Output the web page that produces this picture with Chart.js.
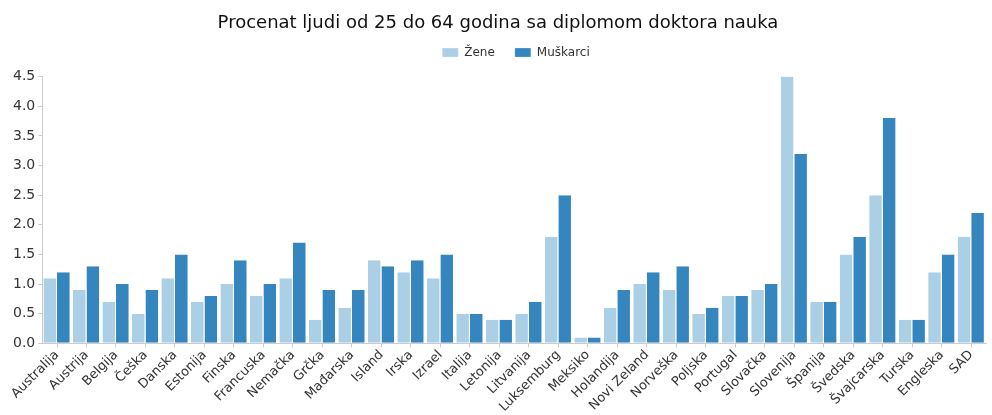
<!DOCTYPE html>
<html>
<head>
<meta charset="utf-8">
<script src="https://cdn.jsdelivr.net/npm/chart.js@4/dist/chart.umd.min.js"></script>
<style>
  html, body { margin: 0; padding: 0; background: #fff; }
  #wrap { width: 992px; height: 415px; }
</style>
</head>
<body>
<div id="wrap"><canvas id="phdChart"></canvas></div>
<script>
const countries = ['Australija', 'Austrija', 'Belgija', 'Češka', 'Danska', 'Estonija', 'Finska', 'Francuska',
    'Nemačka', 'Grčka', 'Mađarska', 'Island', 'Irska', 'Izrael', 'Italija', 'Letonija', 'Litvanija',
    'Luksemburg', 'Meksiko', 'Holandija', 'Novi Zeland', 'Norveška', 'Poljska', 'Portugal', 'Slovačka',
    'Slovenija', 'Španija', 'Švedska', 'Švajcarska', 'Turska', 'Engleska', 'SAD'];
const zene = [1.1, 0.9, 0.7, 0.5, 1.1, 0.7, 1.0, 0.8, 1.1, 0.4, 0.6, 1.4, 1.2, 1.1, 0.5, 0.4, 0.5,
    1.8, 0.1, 0.6, 1.0, 0.9, 0.5, 0.8, 0.9, 4.5, 0.7, 1.5, 2.5, 0.4, 1.2, 1.8];
const muskarci = [1.2, 1.3, 1.0, 0.9, 1.5, 0.8, 1.4, 1.0, 1.7, 0.9, 0.9, 1.3, 1.4, 1.5, 0.5, 0.4, 0.7,
    2.5, 0.1, 0.9, 1.2, 1.3, 0.6, 0.8, 1.0, 3.2, 0.7, 1.8, 3.8, 0.4, 1.5, 2.2];

const fontFam = '"DejaVu Sans", Verdana, sans-serif';

// legend sits a bit higher and further right than its box
const legendShift = {
    id: 'legendShift',
    afterLayout(chart) {
        const lg = chart.legend;
        lg.top -= 8;
        lg.bottom -= 8;
        lg.left += 18;
        lg.right += 18;
        if (lg.adjustHitBoxes) lg.adjustHitBoxes();
    }
};

const ctx = document.getElementById('phdChart').getContext('2d');
new Chart(ctx, {
    type: 'bar',
    data: {
        labels: countries,
        datasets: [{
            label: 'Žene',
            data: zene,
            backgroundColor: '#abd0e6',
            borderColor: '#ffffff',
            borderWidth: { left: 0, right: 1, top: 0, bottom: 0 }
        }, {
            label: 'Muškarci',
            data: muskarci,
            backgroundColor: '#3585bf',
            borderColor: '#ffffff',
            borderWidth: { left: 0, right: 1, top: 0, bottom: 0 }
        }]
    },
    options: {
        responsive: true,
        maintainAspectRatio: false,
        animation: false,
        categoryPercentage: 0.92,
        barPercentage: 1.0,
        layout: { padding: { left: 10, right: 6, top: 6, bottom: 0 } },
        scales: {
            y: {
                min: 0,
                max: 4.5,
                ticks: {
                    stepSize: 0.5,
                    color: '#333',
                    font: { family: fontFam, size: 14 },
                    padding: 3,
                    callback: v => v.toFixed(1)
                },
                grid: { drawOnChartArea: false, tickLength: 4, color: '#ccc' },
                border: { color: '#ccc' }
            },
            x: {
                ticks: {
                    color: '#333',
                    font: { family: fontFam, size: 13 },
                    autoSkip: false,
                    maxRotation: 45,
                    minRotation: 45,
                    padding: 0
                },
                grid: { offset: false, drawOnChartArea: false, tickLength: 4, color: '#ccc' },
                border: { color: '#ccc' }
            }
        },
        plugins: {
            title: {
                display: true,
                text: 'Procenat ljudi od 25 do 64 godina sa diplomom doktora nauka',
                color: '#111',
                font: { family: fontFam, size: 18, weight: 'normal' },
                padding: { top: 7, bottom: 0 }
            },
            legend: {
                labels: {
                    color: '#333',
                    font: { family: fontFam, size: 12 },
                    boxWidth: 16,
                    boxHeight: 9,
                    padding: 20
                }
            },
            tooltip: { enabled: true }
        }
    },
    plugins: [legendShift]
});
</script>
</body>
</html>
